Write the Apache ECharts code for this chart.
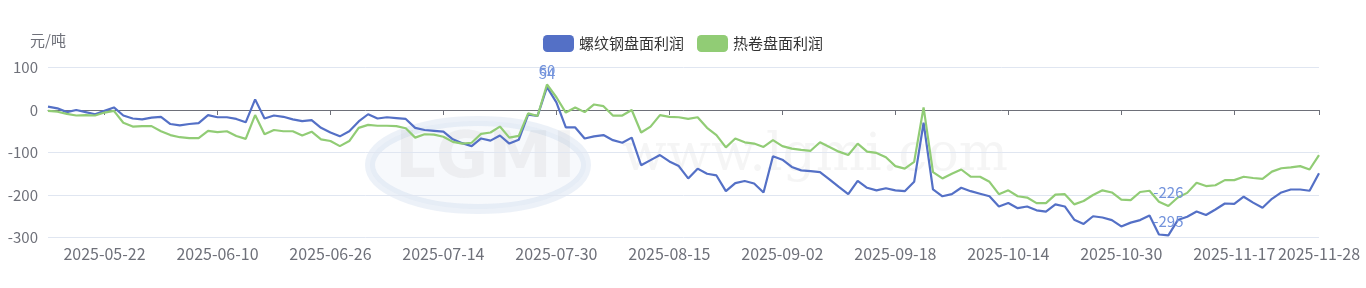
<!DOCTYPE html>
<html>
<head>
<meta charset="utf-8">
<script src="https://cdn.jsdelivr.net/npm/echarts@6/dist/echarts.min.js"></script>
<style>
html,body{margin:0;padding:0;background:#fff;}
#chart{width:1366px;height:288px;}
</style>
</head>
<body>
<div id="chart"></div>
<script>
var dates = [
"2025-05-14","2025-05-15","2025-05-16","2025-05-19","2025-05-20","2025-05-21","2025-05-22","2025-05-23","2025-05-26","2025-05-27",
"2025-05-28","2025-05-29","2025-05-30","2025-06-03","2025-06-04","2025-06-05","2025-06-06","2025-06-09","2025-06-10","2025-06-11",
"2025-06-12","2025-06-13","2025-06-16","2025-06-17","2025-06-18","2025-06-19","2025-06-20","2025-06-23","2025-06-24","2025-06-25",
"2025-06-26","2025-06-27","2025-06-30","2025-07-01","2025-07-02","2025-07-03","2025-07-04","2025-07-07","2025-07-08","2025-07-09",
"2025-07-10","2025-07-11","2025-07-14","2025-07-15","2025-07-16","2025-07-17","2025-07-18","2025-07-21","2025-07-22","2025-07-23",
"2025-07-24","2025-07-25","2025-07-28","2025-07-29","2025-07-30","2025-07-31","2025-08-01","2025-08-04","2025-08-05","2025-08-06",
"2025-08-07","2025-08-08","2025-08-11","2025-08-12","2025-08-13","2025-08-14","2025-08-15","2025-08-18","2025-08-19","2025-08-20",
"2025-08-21","2025-08-22","2025-08-25","2025-08-26","2025-08-27","2025-08-28","2025-08-29","2025-09-01","2025-09-02","2025-09-03",
"2025-09-04","2025-09-05","2025-09-08","2025-09-09","2025-09-10","2025-09-11","2025-09-12","2025-09-15","2025-09-16","2025-09-17",
"2025-09-18","2025-09-19","2025-09-22","2025-09-23","2025-09-24","2025-09-25","2025-09-26","2025-09-29","2025-09-30","2025-10-09",
"2025-10-10","2025-10-13","2025-10-14","2025-10-15","2025-10-16","2025-10-17","2025-10-20","2025-10-21","2025-10-22","2025-10-23",
"2025-10-24","2025-10-27","2025-10-28","2025-10-29","2025-10-30","2025-10-31","2025-11-03","2025-11-04","2025-11-05","2025-11-06",
"2025-11-07","2025-11-10","2025-11-11","2025-11-12","2025-11-13","2025-11-14","2025-11-17","2025-11-18","2025-11-19","2025-11-20",
"2025-11-21","2025-11-24","2025-11-25","2025-11-26","2025-11-27","2025-11-28"
];

var rebarProfit = [
8,4,-5,0,-5,-10,-2,6,-13,-20,
-22,-18,-16,-33,-36,-33,-31,-12,-17,-17,
-21,-29,25,-20,-13,-16,-22,-26,-24,-42,
-53,-62,-50,-27,-10,-20,-17,-19,-21,-42,
-47,-49,-51,-69,-78,-85,-67,-72,-60,-79,
-70,-11,-14,54,18,-41,-41,-67,-62,-59,
-71,-77,-65,-130,-118,-106,-121,-132,-161,-138,
-150,-154,-191,-172,-167,-173,-194,-109,-117,-134,
-142,-144,-146,-163,-181,-198,-167,-183,-189,-184,
-189,-191,-169,-30,-187,-203,-198,-183,-191,-197,
-203,-227,-219,-231,-227,-236,-239,-222,-227,-258,
-268,-250,-253,-259,-274,-265,-259,-248,-293,-295,
-259,-251,-239,-247,-234,-220,-221,-204,-218,-230,
-209,-194,-187,-187,-190,-149
];

var coilProfit = [
-2,-4,-9,-13,-12,-13,-6,-2,-30,-39,
-38,-38,-50,-59,-64,-66,-66,-49,-52,-50,
-61,-68,-12,-57,-47,-50,-50,-60,-51,-69,
-73,-85,-73,-42,-35,-37,-37,-38,-43,-65,
-57,-58,-63,-75,-79,-77,-56,-53,-39,-65,
-61,-8,-14,60,30,-6,6,-5,13,9,
-13,-13,0,-53,-39,-12,-16,-17,-21,-17,
-42,-59,-88,-67,-76,-79,-87,-71,-85,-91,
-94,-96,-76,-87,-98,-106,-79,-98,-101,-111,
-132,-138,-122,6,-146,-161,-150,-140,-157,-157,
-169,-198,-189,-203,-206,-219,-219,-199,-198,-222,
-214,-200,-189,-194,-211,-212,-193,-190,-216,-226,
-206,-195,-171,-179,-177,-165,-165,-157,-160,-162,
-145,-137,-135,-132,-140,-106
];

var seriesNames = ["螺纹钢盘面利润", "热卷盘面利润"];
var unitName = "元/吨";
var watermark = "www.lgmi.com";
var logoText = "LGMI";

var font = "'Microsoft YaHei','Noto Sans CJK SC',sans-serif";
var lastIdx = dates.length - 1;
function showIdx(i){ return i % 12 === 6 || i === lastIdx; }

var markCfg = {
  symbol: 'circle',
  symbolSize: 1,
  itemStyle: {color: 'rgba(0,0,0,0)'},
  label: {show: true, position: 'top', distance: 6, color: '#7393dc', fontSize: 15, fontFamily: font},
  data: [{type: 'max'}, {type: 'min'}]
};

var chart = echarts.init(document.getElementById('chart'), null, {renderer: 'canvas'});
chart.setOption({
  animation: false,
  textStyle: {fontFamily: font},
  color: ['#5470c6', '#91cc75'],
  graphic: [
    {
      type: 'ellipse', silent: true, z: -2,
      shape: {cx: 478, cy: 165, rx: 108, ry: 44},
      style: {fill: 'rgba(210,220,238,0.18)', stroke: 'rgba(170,190,225,0.22)', lineWidth: 10}
    },
    {
      type: 'text', left: 395, top: 128, silent: true, z: -1,
      style: {text: logoText, fontSize: 64, fontWeight: 'bold', fontFamily: "'DejaVu Sans','Liberation Sans',sans-serif", fill: 'rgba(150,150,150,0.10)'}
    },
    {
      type: 'text', left: 622, top: 130, silent: true, z: -1,
      style: {text: watermark, fontSize: 52, fontFamily: "'DejaVu Serif','Liberation Serif',serif", fill: 'rgba(120,120,120,0.07)'}
    }
  ],
  legend: {
    top: 30,
    left: 'center',
    itemWidth: 31,
    itemHeight: 17,
    itemGap: 13,
    icon: 'roundRect',
    textStyle: {fontSize: 15, color: '#333', fontFamily: font},
    data: seriesNames
  },
  grid: {left: 48, right: 47, top: 67.5, bottom: 50.5, containLabel: false},
  xAxis: {
    type: 'category',
    boundaryGap: false,
    data: dates,
    axisLine: {lineStyle: {color: '#6E7079'}},
    axisTick: {interval: function(i){ return showIdx(i); }, length: 5},
    axisLabel: {interval: function(i){ return showIdx(i); }, fontSize: 16, color: '#6E7079', margin: 8}
  },
  yAxis: {
    type: 'value',
    min: -300,
    max: 100,
    interval: 100,
    name: unitName,
    nameGap: 20,
    nameTextStyle: {fontSize: 15, color: '#6E7079'},
    axisLabel: {fontSize: 15, color: '#6E7079', margin: 10},
    splitLine: {lineStyle: {color: '#E0E6F1'}}
  },
  series: [
    {name: seriesNames[0], type: 'line', data: rebarProfit, showSymbol: false, symbol: 'none', lineStyle: {width: 2.2}, markPoint: markCfg},
    {name: seriesNames[1], type: 'line', data: coilProfit, showSymbol: false, symbol: 'none', lineStyle: {width: 2.2}, markPoint: markCfg}
  ]
});
</script>
</body>
</html>
